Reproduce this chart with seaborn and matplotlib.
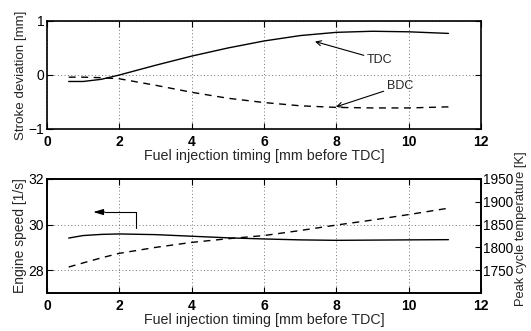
import numpy as np
import pandas as pd
import matplotlib
matplotlib.use("Agg")
from matplotlib import pyplot as plt
import seaborn as sns

# timing values (mm before TDC)
timing = [0.6, 1.0, 1.5, 2.0, 3.0, 4.0, 5.0, 6.0, 7.0, 8.0, 9.0, 10.0, 11.1]

# stroke deviation [mm]
tdc = [-0.12, -0.12, -0.08, 0.0, 0.18, 0.35, 0.50, 0.63, 0.73, 0.79, 0.81, 0.80, 0.77]
bdc = [-0.04, -0.04, -0.05, -0.07, -0.19, -0.32, -0.43, -0.51, -0.57, -0.60, -0.61, -0.61, -0.59]

# engine speed [1/s] and peak cycle temperature [K]
speed = [29.41, 29.52, 29.57, 29.59, 29.56, 29.49, 29.42, 29.37, 29.33, 29.31, 29.32, 29.33, 29.34]
temp = [1757, 1766, 1777, 1787, 1800, 1811, 1819, 1826, 1837, 1849, 1860, 1872, 1886]

df = pd.DataFrame({"timing": timing, "tdc": tdc, "bdc": bdc, "speed": speed, "temp": temp})

sns.set_theme(style="white")
plt.rcParams["font.family"] = ["Liberation Sans", "DejaVu Sans"]
plt.rcParams["axes.unicode_minus"] = True

W, H = 531, 331
fig = plt.figure(figsize=(W / 100, H / 100), dpi=100)
ax1 = fig.add_axes([47 / W, (H - 129) / H, 434 / W, 108 / H])
ax2 = fig.add_axes([47 / W, (H - 293) / H, 434 / W, 114 / H])

grid_kw = dict(color="0.45", linestyle=(0, (1, 2.5)), linewidth=0.7)
dash = (0, (5, 4))

# top panel: stroke deviation
sns.lineplot(data=df, x="timing", y="tdc", ax=ax1, color="black", linewidth=1.0)
sns.lineplot(data=df, x="timing", y="bdc", ax=ax1, color="black", linewidth=1.0, linestyle=dash)
ax1.set_xlim(0, 12)
ax1.set_ylim(-1, 1)
ax1.set_xticks([0, 2, 4, 6, 8, 10, 12])
ax1.set_yticks([-1, 0, 1])
ax1.set_xlabel("Fuel injection timing [mm before TDC]", fontsize=10.3, labelpad=0)
ax1.set_ylabel("Stroke deviation [mm]", fontsize=9.6, labelpad=1)
ax1.grid(True, **grid_kw)
ax1.annotate("TDC", xy=(7.41, 0.62), xytext=(8.85, 0.28), fontsize=9, va="center",
             arrowprops=dict(arrowstyle="->", color="black", lw=0.8, shrinkA=0, shrinkB=0))
ax1.annotate("BDC", xy=(7.99, -0.59), xytext=(9.4, -0.2), fontsize=9, va="center",
             arrowprops=dict(arrowstyle="->", color="black", lw=0.8, shrinkA=0, shrinkB=0))

# bottom panel: engine speed (left) and peak temperature (right)
sns.lineplot(data=df, x="timing", y="speed", ax=ax2, color="black", linewidth=1.0)
ax2.set_xlim(0, 12)
ax2.set_ylim(27, 32)
ax2.set_xticks([0, 2, 4, 6, 8, 10, 12])
ax2.set_yticks([28, 30, 32])
ax2.set_xlabel("Fuel injection timing [mm before TDC]", fontsize=10.3, labelpad=0)
ax2.set_ylabel("Engine speed [1/s]", fontsize=10, labelpad=1)
ax2.grid(True, **grid_kw)
ax2.plot([2.45, 2.45, 1.6], [29.85, 30.55, 30.55], color="black", lw=0.8)
ax2.annotate("", xy=(1.28, 30.55), xytext=(1.6, 30.55),
             arrowprops=dict(arrowstyle="-|>,head_length=0.5,head_width=0.15", color="black",
                             lw=0.8, shrinkA=0, shrinkB=0))

ax3 = ax2.twinx()
sns.lineplot(data=df, x="timing", y="temp", ax=ax3, color="black", linewidth=1.0, linestyle=dash)
ax3.set_ylim(1700, 1950)
ax3.set_yticks([1750, 1800, 1850, 1900, 1950])
ax3.set_ylabel("Peak cycle temperature [K]", fontsize=9.3)
ax3.yaxis.set_label_coords(1.079, 0.56)

for ax in (ax1, ax2, ax3):
    for s in ax.spines.values():
        s.set_color("black")
        s.set_linewidth(1.2)
    ax.tick_params(direction="in", length=4, width=0.8, labelsize=10, pad=2, colors="black")
    ax.tick_params(axis="x", pad=4)
ax3.tick_params(labelsize=9.8, pad=1.5)
for ax in (ax1, ax2):
    for lab in ax.get_xticklabels():
        lab.set_fontweight("bold")
ax1.tick_params(top=True, right=True, bottom=True, left=True)
ax2.tick_params(top=True, bottom=True, left=True, right=False)
ax3.tick_params(right=True, left=False)

fig.savefig("out.png", dpi=100)
